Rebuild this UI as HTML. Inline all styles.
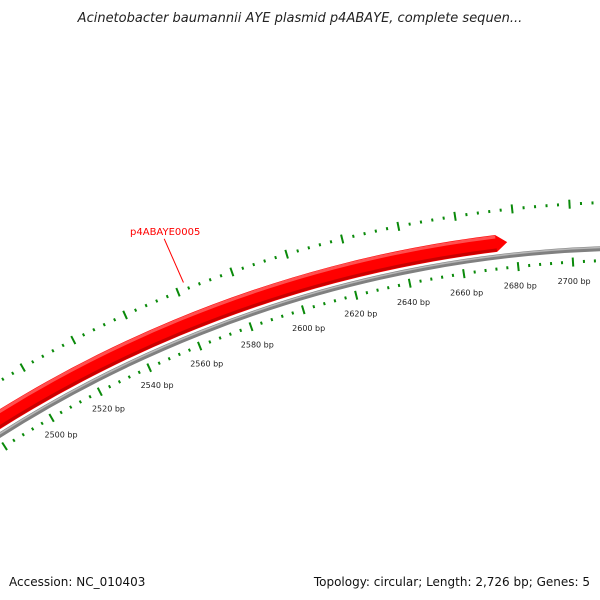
<!DOCTYPE html>
<html><head><meta charset="utf-8"><style>
html,body{margin:0;padding:0;background:#fff;width:600px;height:600px;overflow:hidden}
svg{display:block;font-family:"DejaVu Sans","Liberation Sans",sans-serif}
</style></head><body>
<svg id="map" width="600" height="600" viewBox="0 0 600 600" xmlns="http://www.w3.org/2000/svg">
<rect width="600" height="600" fill="#fff"/>
<text x="300" y="22" text-anchor="middle" font-size="13" font-style="italic" fill="#222">Acinetobacter baumannii AYE plasmid p4ABAYE, complete sequen...</text>
<g id="rings"></g>
<g id="backbone"></g>
<g id="genes"></g>
<g id="labels"></g>
<text x="9" y="586" font-size="12" fill="#111">Accession: NC_010403</text>
<text x="590" y="586" text-anchor="end" font-size="12" fill="#111">Topology: circular; Length: 2,726 bp; Genes: 5</text>
</svg>
<script>
const genomeLength = 2726;
const tickStart = [2440];
const tickEnd = [2726];
const labelStart = [2500];
const minorStep = [4];
const majorStep = [20];
const geneNames = ["p4ABAYE0005"];
const geneStarts = [2200];
const geneEnds = [2677];
const geneLabelBp = [2563];

const NS = "http://www.w3.org/2000/svg";
const cx = 644.3, cy = 1450.9;
const R_INNER_TICK = 1191, R_OUTER_TICK = 1249, R_BACK = 1203, R_LABEL = 1172;
const R_GENE_IN = 1208, R_GENE_OUT = 1225;
function ang(bp){ return bp / genomeLength * 2 * Math.PI; }
function pt(bp, r){ const a = ang(bp); return [cx + r*Math.sin(a), cy - r*Math.cos(a)]; }
function mk(tag, attrs, parent){ const e = document.createElementNS(NS, tag); for (const k in attrs) e.setAttribute(k, attrs[k]); parent.appendChild(e); return e; }
function arcPath(b0, b1, r){ const p0 = pt(b0, r), p1 = pt(b1, r); const large = (b1-b0)/genomeLength > 0.5 ? 1 : 0; return `M${p0[0]},${p0[1]} A${r},${r} 0 ${large} 1 ${p1[0]},${p1[1]}`; }

const rings = document.getElementById('rings');
const labels = document.getElementById('labels');
for (let bp = tickStart[0]; bp <= tickEnd[0]; bp += minorStep[0]) {
  const major = bp % majorStep[0] === 0;
  const half = major ? 4.5 : 1.5;
  [R_INNER_TICK, R_OUTER_TICK].forEach((r, i) => {
    const a = pt(bp, r - half), b = pt(bp, r + half);
    const t = mk('line', {x1:a[0], y1:a[1], x2:b[0], y2:b[1], stroke:'#0a8a0a', 'stroke-width':2}, rings);
    
    
  });
  if (major && bp >= labelStart[0]) {
    const p = pt(bp, R_LABEL);
    const tx = mk('text', {x:p[0], y:p[1]+3, 'text-anchor':'middle', 'font-size':8, fill:'#222'}, labels);
    tx.textContent = bp + ' bp';
    
    
  }
}

const back = document.getElementById('backbone');
const c1 = mk('circle', {cx:cx, cy:cy, r:R_BACK, fill:'none', stroke:'#808080', 'stroke-width':5}, back);


const c2 = mk('circle', {cx:cx, cy:cy, r:R_BACK+1.2, fill:'none', stroke:'#b8b8b8', 'stroke-width':1.5}, back);



const genes = document.getElementById('genes');
geneNames.forEach((name, i) => {
  const s = geneStarts[i], e = geneEnds[i];
  const head = 4;
  const o0 = pt(s, R_GENE_OUT), o1 = pt(e-head, R_GENE_OUT), tip = pt(e, (R_GENE_IN+R_GENE_OUT)/2), i1 = pt(e-head, R_GENE_IN), i0 = pt(s, R_GENE_IN);
  const d = `M${o0[0]},${o0[1]} A${R_GENE_OUT},${R_GENE_OUT} 0 0 1 ${o1[0]},${o1[1]} L${tip[0]},${tip[1]} L${i1[0]},${i1[1]} A${R_GENE_IN},${R_GENE_IN} 0 0 0 ${i0[0]},${i0[1]} Z`;
  const g = mk('path', {d:d, fill:'#ff0000'}, genes);
  
  
  const sh = mk('path', {d:arcPath(s, e-head, R_GENE_IN+2), fill:'none', stroke:'#c80000', 'stroke-width':3}, genes);
  
  
  const hl = mk('path', {d:arcPath(s, e-head, R_GENE_OUT-2), fill:'none', stroke:'#ff5050', 'stroke-width':3}, genes);
  
  
  const a = pt(geneLabelBp[i], 1256), b = pt(geneLabelBp[i], 1303);
  const ln = mk('line', {x1:a[0], y1:a[1], x2:b[0]-2, y2:b[1], stroke:'#ff0000', 'stroke-width':1}, genes);
  
  
  const lt = mk('text', {x:b[0]-1, y:b[1]-4, 'text-anchor':'middle', 'font-size':10, fill:'#ff0000'}, genes);
  lt.textContent = name;
  
  
});
</script>
</body></html>
